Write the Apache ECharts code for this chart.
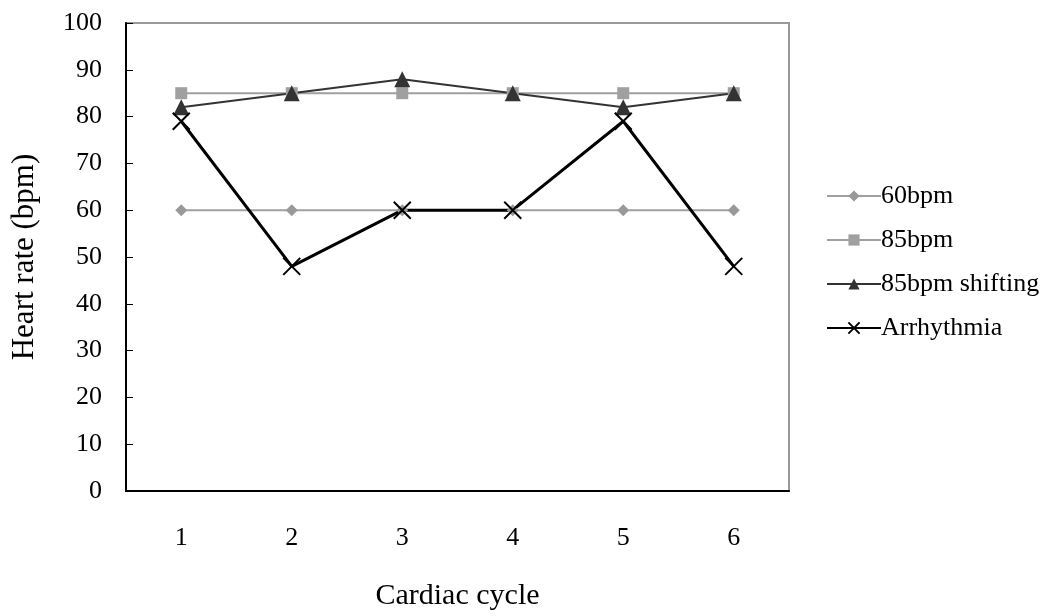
<!DOCTYPE html>
<html>
<head>
<meta charset="utf-8">
<script src="https://cdn.jsdelivr.net/npm/echarts@6/dist/echarts.min.js"></script>
<style>
  html, body { margin: 0; padding: 0; background: #fff; }
  #chart { width: 1052px; height: 616px; }
</style>
</head>
<body>
<div id="chart"></div>
<script>
// categories and values
const cycles = ['1', '2', '3', '4', '5', '6'];
const bpm60 = [60, 60, 60, 60, 60, 60];
const bpm85 = [85, 85, 85, 85, 85, 85];
const bpm85shift = [82, 85, 88, 85, 82, 85];
const arrhythmia = [79, 48, 60, 60, 79, 48];

const font = 'Liberation Serif, Times New Roman, serif';
const cross = 'path://M0,0L20,20M20,0L0,20';

let chart = echarts.init(document.getElementById('chart'), null, { renderer: 'canvas' });

let option = {
  animation: false,
  textStyle: { fontFamily: font, color: '#000' },
  grid: {
    left: 126, right: 263, top: 23, bottom: 123,
    show: true, borderColor: '#999', borderWidth: 2
  },
  legend: {
    orient: 'vertical',
    left: 821,
    top: 178,
    itemWidth: 54,
    itemHeight: 14,
    itemGap: 18,
    textStyle: { fontFamily: font, fontSize: 26, lineHeight: 26, color: '#000', padding: [0, 0, 0, -5] },
    data: ['60bpm', '85bpm', '85bpm shifting', 'Arrhythmia']
  },
  xAxis: {
    type: 'category',
    data: cycles,
    name: 'Cardiac cycle',
    nameLocation: 'middle',
    nameGap: 90,
    nameTextStyle: { fontFamily: font, fontSize: 30, color: '#000' },
    axisLine: { lineStyle: { color: '#000', width: 2 } },
    axisTick: { inside: true, length: 8, lineStyle: { color: '#000' } },
    axisLabel: { fontFamily: font, fontSize: 26, color: '#000', margin: 34 },
    splitLine: { show: false }
  },
  yAxis: {
    type: 'value',
    min: 0, max: 100, interval: 10,
    name: 'Heart rate (bpm)',
    nameLocation: 'middle',
    nameGap: 86,
    nameTextStyle: { fontFamily: font, fontSize: 31, color: '#000' },
    axisLine: { show: true, lineStyle: { color: '#000', width: 2 } },
    axisTick: { show: true, inside: true, length: 7, lineStyle: { color: '#000' } },
    axisLabel: { fontFamily: font, fontSize: 26, color: '#000', margin: 24 },
    splitLine: { show: false }
  },
  series: [
    {
      name: '60bpm', type: 'line', data: bpm60,
      symbol: 'diamond', symbolSize: 12,
      lineStyle: { color: '#a0a0a0', width: 2 },
      itemStyle: { color: '#999' }
    },
    {
      name: '85bpm', type: 'line', data: bpm85,
      symbol: 'rect', symbolSize: 12,
      lineStyle: { color: '#a0a0a0', width: 2 },
      itemStyle: { color: '#a0a0a0' }
    },
    {
      name: '85bpm shifting', type: 'line', data: bpm85shift,
      symbol: 'triangle', symbolSize: 16,
      lineStyle: { color: '#333', width: 2 },
      itemStyle: { color: '#333' }
    },
    {
      name: 'Arrhythmia', type: 'line', data: arrhythmia,
      symbol: cross, symbolSize: 17,
      lineStyle: { color: '#000', width: 3 },
      itemStyle: { color: '#000', borderColor: '#000', borderWidth: 2 }
    }
  ]
};

chart.setOption(option);
</script>
</body>
</html>
